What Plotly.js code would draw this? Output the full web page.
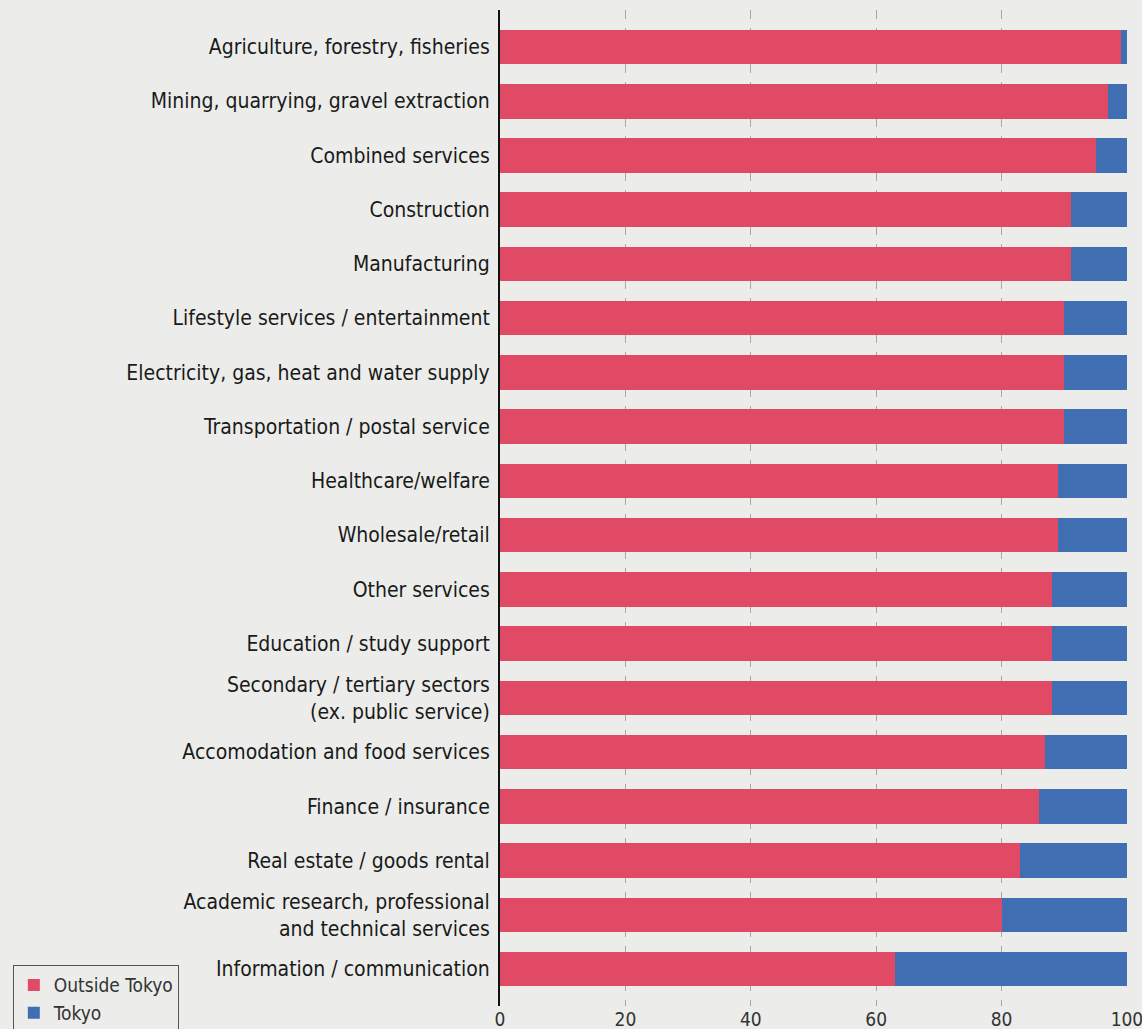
<!DOCTYPE html>
<html>
<head>
<meta charset="utf-8">
<script src="https://cdn.plot.ly/plotly-3.0.1.min.js"></script>
<style>
html,body{margin:0;padding:0;background:#ECEDEA;}
#chart{width:1142px;height:1029px;}
</style>
</head>
<body>
<div id="chart"></div>
<script>
const categories = [
  "Agriculture, forestry, fisheries",
  "Mining, quarrying, gravel extraction",
  "Combined services",
  "Construction",
  "Manufacturing",
  "Lifestyle services / entertainment",
  "Electricity, gas, heat and water supply",
  "Transportation / postal service",
  "Healthcare/welfare",
  "Wholesale/retail",
  "Other services",
  "Education / study support",
  "Secondary / tertiary sectors<br>(ex. public service)",
  "Accomodation and food services",
  "Finance / insurance",
  "Real estate / goods rental",
  "Academic research, professional<br>and technical services",
  "Information / communication"
];
const outsideTokyo = [99, 97, 95, 91, 91, 90, 90, 90, 89, 89, 88, 88, 88, 87, 86, 83, 80, 63];
const tokyo        = [1, 3, 5, 9, 9, 10, 10, 10, 11, 11, 12, 12, 12, 13, 14, 17, 20, 37];
const xTicks = [0, 20, 40, 60, 80, 100];

const FONT = '"DejaVu Sans Condensed", "Liberation Sans Narrow", "Roboto", sans-serif';

const traces = [
  {type:'bar', orientation:'h', name:'Outside Tokyo', y:categories, x:outsideTokyo,
   marker:{color:'#E04A64'}, width:0.64, hoverinfo:'x+y'},
  {type:'bar', orientation:'h', name:'Tokyo', y:categories, x:tokyo,
   marker:{color:'#406EB2'}, width:0.64, hoverinfo:'x+y'}
];

const layout = {
  width:1142, height:1029,
  paper_bgcolor:'#ECEDEA', plot_bgcolor:'#ECEDEA',
  barmode:'stack',
  margin:{l:500, r:15, t:10, b:23, pad:0, autoexpand:false},
  font:{family:FONT, color:'#1a1a1a'},
  showlegend:true,
  legend:{
    x:-0.777, xanchor:'left', y:0.041, yanchor:'top',
    bgcolor:'#ECEDEA', bordercolor:'#555555', borderwidth:1,
    font:{family:FONT, size:19, color:'#333'},
    traceorder:'normal', itemwidth:30, tracegroupgap:0
  },
  xaxis:{
    range:[0,100.01], tickvals:xTicks, ticktext:xTicks.map(String),
    showgrid:true, gridcolor:'#A8A8A8', griddash:'dash', gridwidth:1,
    zeroline:false, showline:false, ticks:'', ticklabeloverflow:'allow',
    tickfont:{family:FONT, size:19, color:'#333'}, fixedrange:true
  },
  yaxis:{
    type:'category', categoryorder:'array', categoryarray:categories,
    range:[17.68, -0.68],
    showgrid:false, zeroline:false,
    showline:true, linecolor:'#111', linewidth:2,
    ticks:'', ticklabelstandoff:4,
    tickfont:{family:FONT, size:21, color:'#1a1a1a'}, fixedrange:true
  }
};

Plotly.newPlot('chart', traces, layout, {displayModeBar:false, staticPlot:true});
</script>
</body>
</html>
